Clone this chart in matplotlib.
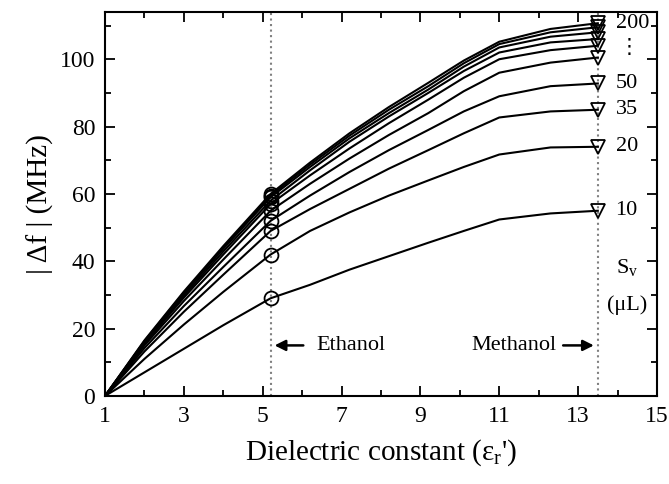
import numpy as np
from matplotlib import pyplot as plt
from matplotlib.ticker import MultipleLocator

plt.rcParams['font.family'] = ['Liberation Serif', 'DejaVu Sans']
plt.rcParams['mathtext.fontset'] = 'custom'
plt.rcParams['mathtext.rm'] = 'Liberation Serif'
plt.rcParams['mathtext.it'] = 'Liberation Serif'

# 数据
eps = [1, 2, 3, 4, 5.2, 6.2, 7.2, 8.2, 9.2, 10.1, 11, 12.3, 13.5]
sv = [10, 20, 35, 50, 65, 80, 100, 125, 150, 200]
df = [
    [0, 7.0, 14.0, 21.0, 29.0, 33.0, 37.5, 41.5, 45.5, 49.0, 52.4, 54.2, 55.0],
    [0, 11.0, 21.2, 30.9, 42.0, 49.0, 54.5, 59.5, 64.0, 68.0, 71.7, 73.8, 74.0],
    [0, 13.2, 25.0, 36.0, 49.0, 55.5, 61.5, 67.5, 73.0, 78.0, 82.7, 84.5, 85.0],
    [0, 14.2, 26.7, 38.3, 52.0, 59.5, 66.5, 73.0, 79.0, 84.5, 89.0, 92.0, 92.8],
    [0, 15.0, 28.2, 40.5, 55.0, 63.0, 70.5, 77.5, 84.0, 90.5, 96.0, 99.0, 100.5],
    [0, 15.5, 29.2, 42.0, 57.0, 65.5, 73.5, 81.0, 88.0, 94.5, 100.0, 102.7, 104.0],
    [0, 15.8, 29.8, 42.9, 58.0, 67.0, 75.5, 83.0, 90.0, 96.5, 102.0, 105.0, 106.0],
    [0, 16.1, 30.4, 43.7, 59.0, 68.0, 76.5, 84.0, 91.0, 97.8, 103.5, 106.7, 108.0],
    [0, 16.3, 30.7, 44.1, 59.5, 68.7, 77.3, 85.0, 92.0, 98.8, 104.5, 108.0, 109.5],
    [0, 16.5, 31.0, 44.5, 60.0, 69.3, 78.0, 85.8, 93.0, 99.6, 105.2, 109.0, 110.7],
]
labels = {10: '10', 20: '20', 35: '35', 50: '50', 200: '200'}
x_eth, x_meth = 5.2, 13.5

fig = plt.figure(figsize=(6.69, 4.84), dpi=100)
ax = fig.add_axes([0.157, 0.182, 0.825, 0.793])

ax.axvline(x_eth, color='gray', linestyle=':', linewidth=1.5, zorder=1)
ax.axvline(x_meth, color='gray', linestyle=':', linewidth=1.5, zorder=1)

i_e = eps.index(x_eth)
for s, y in zip(sv, df):
    ax.plot(eps, y, color='black', linewidth=1.5, zorder=2)
    ax.plot(eps[i_e], y[i_e], 'o', ms=10, mfc='none', mec='black', mew=1.3, zorder=3)
    ax.plot(eps[-1], y[-1], 'v', ms=10, mfc='none', mec='black', mew=1.3, zorder=3)
    if s in labels:
        ax.text(13.95, y[-1], labels[s], fontsize=16, va='center', ha='left')

ax.text(14.3, 103.5, '⋮', fontsize=15, va='center', ha='center', family=['DejaVu Sans'])
ax.text(14.25, 38, r'S$_\mathrm{v}$', fontsize=16, ha='center', va='center')
ax.text(14.25, 27, '(μL)', fontsize=16, ha='center', va='center')

# 箭头
ax.annotate('', xy=(x_eth + 0.03, 15.0), xytext=(6.1, 15.0),
            arrowprops=dict(arrowstyle='-|>', color='black', lw=1.8, mutation_scale=16))
ax.text(6.35, 15.0, 'Ethanol', fontsize=16, va='center', ha='left')
ax.annotate('', xy=(x_meth - 0.03, 15.0), xytext=(12.55, 15.0),
            arrowprops=dict(arrowstyle='-|>', color='black', lw=1.8, mutation_scale=16))
ax.text(12.45, 15.0, 'Methanol', fontsize=16, va='center', ha='right')

ax.set_xlim(1, 15)
ax.set_ylim(0, 114)
ax.set_xticks(np.arange(1, 16, 2))
ax.set_yticks(np.arange(0, 101, 20))
ax.xaxis.set_minor_locator(MultipleLocator(1))
ax.yaxis.set_minor_locator(MultipleLocator(10))
ax.tick_params(which='both', direction='in', top=True, right=True, width=1.3, labelsize=17)
ax.tick_params(which='major', length=7, pad=7)
ax.tick_params(which='minor', length=4)
for sp in ax.spines.values():
    sp.set_linewidth(1.5)

ax.set_xlabel("Dielectric constant (ε$_\\mathrm{r}$')", fontsize=21, labelpad=8)
ax.set_ylabel('| Δf | (MHz)', fontsize=21, labelpad=4)

fig.savefig('out.png', dpi=100)
